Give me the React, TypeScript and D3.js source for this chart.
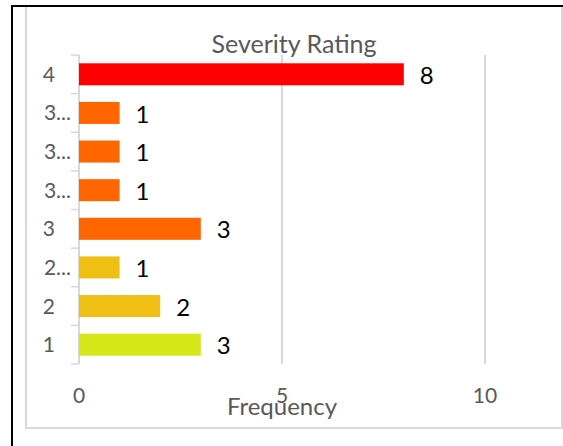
import { useEffect, useRef } from 'react';
import * as d3 from 'd3';

const categories = ['4', '3...', '3...', '3...', '3', '2...', '2', '1'];
const frequencies = [8, 1, 1, 1, 3, 1, 2, 3];
const barColors = ['#ff0000', '#ff6600', '#ff6600', '#ff6600', '#ff6600', '#f0bf14', '#f0bf14', '#d5e619'];
const xTicks = [0, 5, 10];

const App = () => {
  const svgRef = useRef<SVGSVGElement>(null);

  useEffect(() => {
    if (!svgRef.current) return;
    const svg = d3.select(svgRef.current);
    svg.selectAll('*').remove();

    const width = 563;
    const height = 446;
    const plot = { left: 79, right: 485, top: 55, bottom: 364 };
    const font = 'Lato, "Open Sans", sans-serif';

    svg.attr('width', width).attr('height', height);

    // outer frame + chart area border
    svg.append('rect')
      .attr('x', 26).attr('y', 6).attr('width', 536).attr('height', 422)
      .style('fill', '#fff').style('stroke', '#d9d9d9').style('stroke-width', 2);
    svg.append('path')
      .attr('d', `M12,${height} V6 H${width}`)
      .style('fill', 'none').style('stroke', '#000').style('stroke-width', 2);

    const x = d3.scaleLinear().domain([0, 10]).range([plot.left, plot.right]);
    const y = d3.scaleBand<number>()
      .domain(d3.range(categories.length))
      .range([plot.top, plot.bottom])
      .paddingInner(0.43)
      .paddingOuter(0.215);

    // gridlines
    svg.selectAll('.grid')
      .data(xTicks.slice(1))
      .enter()
      .append('line')
      .attr('x1', d => x(d)).attr('x2', d => x(d))
      .attr('y1', plot.top).attr('y2', plot.bottom)
      .style('stroke', '#d9d9d9').style('stroke-width', 2);

    // category axis with tick marks
    const step = (plot.bottom - plot.top) / categories.length;
    svg.append('line')
      .attr('x1', plot.left).attr('x2', plot.left)
      .attr('y1', plot.top).attr('y2', plot.bottom)
      .style('stroke', '#d9d9d9').style('stroke-width', 2);
    svg.selectAll('.ytick')
      .data(d3.range(categories.length + 1))
      .enter()
      .append('line')
      .attr('x1', plot.left - 8).attr('x2', plot.left)
      .attr('y1', d => plot.top + d * step).attr('y2', d => plot.top + d * step)
      .style('stroke', '#d9d9d9').style('stroke-width', 1.5);

    svg.selectAll('.ylabel')
      .data(categories)
      .enter()
      .append('text')
      .attr('x', d => (d.length > 1 ? 71 : 55))
      .attr('y', (_, i) => (y(i) ?? 0) + y.bandwidth() / 2)
      .attr('dy', '0.36em')
      .style('text-anchor', 'end')
      .style('font-family', font)
      .style('font-size', '21px')
      .style('fill', '#595959')
      .text(d => d);

    // bars
    svg.selectAll('.bar')
      .data(frequencies)
      .enter()
      .append('rect')
      .attr('x', x(0))
      .attr('y', (_, i) => y(i) ?? 0)
      .attr('width', d => x(d) - x(0))
      .attr('height', y.bandwidth())
      .style('fill', (_, i) => barColors[i]);

    svg.selectAll('.value')
      .data(frequencies)
      .enter()
      .append('text')
      .attr('x', d => x(d) + 16)
      .attr('y', (_, i) => (y(i) ?? 0) + y.bandwidth() / 2 + 1)
      .attr('dy', '0.36em')
      .style('font-family', font)
      .style('font-size', '24px')
      .style('fill', '#000')
      .text(d => d);

    // x tick labels
    svg.selectAll('.xlabel')
      .data(xTicks)
      .enter()
      .append('text')
      .attr('x', d => x(d))
      .attr('y', 403)
      .style('text-anchor', 'middle')
      .style('font-family', font)
      .style('font-size', '21px')
      .style('fill', '#595959')
      .text(d => d);

    svg.append('text')
      .attr('x', 294).attr('y', 53)
      .style('text-anchor', 'middle')
      .style('font-family', font)
      .style('font-size', '25px')
      .style('fill', '#595959')
      .text('Severity Rating');

    svg.append('text')
      .attr('x', 282).attr('y', 415)
      .style('text-anchor', 'middle')
      .style('font-family', font)
      .style('font-size', '24px')
      .style('fill', '#595959')
      .text('Frequency');
  }, []);

  return (
    <div style={{ position: 'absolute', left: 0, top: 0 }}>
      <svg ref={svgRef} style={{ display: 'block' }} />
    </div>
  );
};

export default App;
